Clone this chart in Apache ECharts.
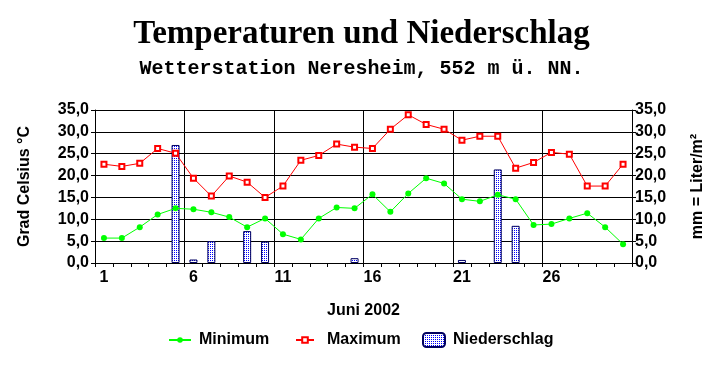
<!DOCTYPE html>
<html>
<head>
<meta charset="utf-8">
<script src="https://cdn.jsdelivr.net/npm/echarts@6/dist/echarts.min.js"></script>
<style>
html,body{margin:0;padding:0;background:#fff;}
#chart{width:723px;height:368px;}
</style>
</head>
<body>
<div id="chart"></div>
<script>
const days = ['1','2','3','4','5','6','7','8','9','10','11','12','13','14','15','16','17','18','19','20','21','22','23','24','25','26','27','28','29','30'];
const minimum = [5.7,5.7,8.2,11.1,12.5,12.3,11.6,10.5,8.2,10.2,6.6,5.4,10.2,12.7,12.5,15.7,11.7,15.9,19.4,18.2,14.6,14.1,15.6,14.6,8.7,8.9,10.2,11.4,8.2,4.3];
const maximum = [22.6,22.1,22.8,26.2,25.1,19.4,15.3,19.9,18.5,15.0,17.6,23.5,24.6,27.2,26.5,26.2,30.6,33.9,31.7,30.6,28.1,29.0,29.0,21.7,23.0,25.3,24.9,17.6,17.6,22.6];
const niederschlag = [null,null,null,null,27.0,0.8,5.0,null,7.3,4.9,null,null,null,null,1.1,null,null,null,null,null,0.7,null,21.4,8.5,null,null,null,null,null,null];

const FONT = "'Liberation Sans', Arial, sans-serif";
const pc = document.createElement('canvas');
pc.width = 2; pc.height = 2;
const pctx = pc.getContext('2d');
pctx.fillStyle = '#ffffff'; pctx.fillRect(0,0,2,2);
pctx.fillStyle = '#0000ff'; pctx.fillRect(0,0,1,1);
const pattern = {image: pc, repeat: 'repeat'};

const fmt = v => v.toFixed(1).replace('.', ',');
const txt = {color:'#000', fontFamily: FONT, fontSize:16, fontWeight:'bold'};

const chart = echarts.init(document.getElementById('chart'), null, {renderer:'canvas'});
chart.setOption({
  animation: false,
  backgroundColor: '#fff',
  title: [
    {text:'Temperaturen und Niederschlag', left:'center', top:13,
     textStyle:{fontFamily:"'Liberation Serif','Times New Roman',serif", fontSize:33, fontWeight:'bold', color:'#000'}},
    {text:'Wetterstation Neresheim, 552 m ü. NN.', left:'center', top:54,
     textStyle:{fontFamily:"'Liberation Mono','Courier New',monospace", fontSize:20, fontWeight:'bold', color:'#000'}}
  ],
  legend: [
    {data:['Minimum'], left:168, top:332, padding:0, itemWidth:22, itemHeight:7, textStyle:Object.assign({padding:[0,0,0,3]}, txt)},
    {data:['Maximum'], left:295, top:332, padding:0, itemWidth:18, itemHeight:7, textStyle:Object.assign({padding:[0,0,0,8]}, txt)},
    {data:['Niederschlag'], left:422, top:332, padding:0, itemWidth:22, itemHeight:14, textStyle:Object.assign({padding:[0,0,0,3]}, txt)}
  ],
  grid: {left:95, right:91, top:110, bottom:105, containLabel:false},
  xAxis: {
    type:'category', data: days, boundaryGap:true,
    name:'Juni 2002', nameLocation:'middle', nameGap:40,
    nameTextStyle: txt,
    axisLine:{lineStyle:{color:'#000', width:1}},
    axisTick:{show:true, interval:0, length:4, lineStyle:{color:'#000'}},
    axisLabel:Object.assign({interval:4, margin:7}, txt),
    splitLine:{show:true, interval:4, lineStyle:{color:'#000', width:1}}
  },
  yAxis: [
    {type:'value', min:0, max:35, interval:5, position:'left',
     name:'Grad Celsius °C', nameLocation:'middle', nameGap:62, nameRotate:90,
     nameTextStyle: txt,
     axisLine:{show:true, lineStyle:{color:'#000'}},
     axisTick:{show:true, length:4, lineStyle:{color:'#000'}},
     axisLabel:Object.assign({formatter:fmt, margin:6}, txt),
     splitLine:{show:true, lineStyle:{color:'#000', width:1}}},
    {type:'value', min:0, max:35, interval:5, position:'right',
     name:'mm = Liter/m²', nameLocation:'middle', nameGap:58, nameRotate:90,
     nameTextStyle: txt,
     axisLine:{show:true, lineStyle:{color:'#000'}},
     axisTick:{show:true, length:4, lineStyle:{color:'#000'}},
     axisLabel:Object.assign({formatter:fmt, margin:3}, txt),
     splitLine:{show:false}}
  ],
  series: [
    {name:'Niederschlag', type:'bar', yAxisIndex:1, data:niederschlag, barWidth:8,
     itemStyle:{color:pattern, borderColor:'#000060', borderWidth:1}, z:2},
    {name:'Minimum', type:'line', data:minimum, symbol:'circle', symbolSize:6,
     lineStyle:{color:'#00ff00', width:1}, itemStyle:{color:'#00ff00'}, z:3},
    {name:'Maximum', type:'line', data:maximum, symbol:'emptyRect', symbolSize:5,
     lineStyle:{color:'#ff0000', width:1}, itemStyle:{color:'#ff0000', borderColor:'#ff0000', borderWidth:1}, z:4}
  ]
});
</script>
</body>
</html>
